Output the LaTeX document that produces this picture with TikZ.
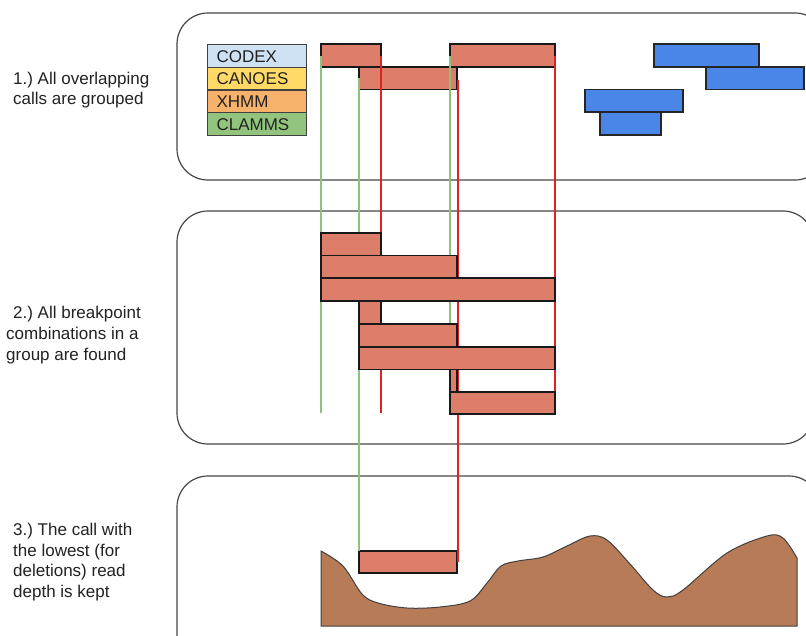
\documentclass[tikz,border=0pt]{standalone}
\usepackage{fontspec}
\setmainfont{Liberation Sans}
\frenchspacing
\definecolor{barred}{HTML}{DD7E6B}
\definecolor{barblue}{HTML}{4A86E8}
\definecolor{codexc}{HTML}{CFE2F3}
\definecolor{canoesc}{HTML}{FFD966}
\definecolor{xhmmc}{HTML}{F6B26B}
\definecolor{clammsc}{HTML}{93C47D}
\definecolor{lgreen}{HTML}{8CC279}
\definecolor{lred}{HTML}{E02222}
\definecolor{landc}{HTML}{B77B57}
\definecolor{txt}{HTML}{222222}
\begin{document}
\begin{tikzpicture}[x=1pt,y=-1pt,
  panel/.style={draw=black!72, line width=1.2pt, rounded corners=31pt},
  redbar/.style={draw=black!90, line width=1.1pt, fill=barred},
  bluebar/.style={draw=black!85, line width=1.1pt, fill=barblue},
  legbox/.style={draw=black!75, line width=1.1pt, anchor=north west, minimum width=99pt, minimum height=22.7pt, text width=81pt, inner xsep=9pt, inner ysep=0pt, text height=12.3pt, text depth=0pt, align=left, font=\fontsize{17}{20}\selectfont\frenchspacing, text=txt},
  gline/.style={draw=lgreen, line width=2pt},
  rline/.style={draw=lred, line width=1.8pt},
  land/.style={draw=black!75, line width=1pt, fill=landc},
  lab/.style={anchor=base west, inner sep=0pt, font=\fontsize{17}{20}\selectfont\frenchspacing, text=txt}
]
\useasboundingbox (0,0) rectangle (806,635);
\clip (0,0) rectangle (806,635);
\fill[white] (0,0) rectangle (806,635);

% panels
\draw[panel] (177,13) rectangle (826,180);
\draw[panel] (177,211) rectangle (814,444);
\draw[panel] (177,476) rectangle (820,665);

% labels
\node[lab] (l1a) at (13,84.3) {1.) All overlapping};
\node[lab] (l1b) at (13,104.5) {calls are grouped};
\node[lab] (l2a) at (13,318.5) {2.) All breakpoint};
\node[lab] (l2b) at (6,339.5) {combinations in a};
\node[lab] (l2c) at (6,360) {group are found};
\node[lab] (l3a) at (13,535) {3.) The call with};
\node[lab] (l3b) at (13,556) {the lowest (for};
\node[lab] (l3c) at (13,576.5) {deletions) read};
\node[lab] (l3d) at (13,597) {depth is kept};

% legend
\node[legbox, fill=codexc] (codex) at (207,44) {CODEX};
\node[legbox, fill=canoesc] (canoes) at (207,66.7) {CANOES};
\node[legbox, fill=xhmmc] (xhmm) at (207,89.4) {XHMM};
\node[legbox, fill=clammsc] (clamms) at (207,112.1) {CLAMMS};

% panel 1 calls
\draw[redbar] (321,44) rectangle (381,67);
\draw[redbar] (450,44) rectangle (555,67);
\draw[redbar] (359,67) rectangle (457,89.5);
\draw[bluebar] (654,44) rectangle (759,67);
\draw[bluebar] (706,67) rectangle (804,89.5);
\draw[bluebar] (585,89.5) rectangle (683,112);
\draw[bluebar] (600,112) rectangle (661,135);

% panel 3 kept call
\draw[redbar] (359,551) rectangle (457,573);

% breakpoint lines
\coordinate (g1a) at (321,56);  \coordinate (g1b) at (321,413);
\coordinate (g2a) at (359,78);  \coordinate (g2b) at (359,551);
\coordinate (g3a) at (450,56);  \coordinate (g3b) at (450,413);
\coordinate (r1a) at (381,56);  \coordinate (r1b) at (381,413);
\coordinate (r2a) at (458,80);  \coordinate (r2b) at (458,562);
\coordinate (r3a) at (555,56);  \coordinate (r3b) at (555,414);
\draw[gline] (g1a) -- (g1b);
\draw[gline] (g2a) -- (g2b);
\draw[gline] (g3a) -- (g3b);
\draw[rline] (r1a) -- (r1b);
\draw[rline] (r2a) -- (r2b);
\draw[rline] (r3a) -- (r3b);

% panel 2 combinations
\draw[redbar] (321,233) rectangle (381,255.5);
\draw[redbar] (321,255.5) rectangle (457,278);
\draw[redbar] (321,278) rectangle (555,301);
\draw[redbar] (359,301) rectangle (381,324);
\draw[redbar] (359,324) rectangle (457,347);
\draw[redbar] (359,347) rectangle (555,369.5);
\draw[redbar] (450,369.5) rectangle (457,392);
\draw[redbar] (450,392) rectangle (555,414);

% read depth landscape
\draw[land] plot[smooth, tension=0.55] coordinates {
  (321,551) (343,566) (362,594) (378,603) (407,608) (440,607) (470,601)
  (487,583) (501,566) (518,561) (543,557) (567,546) (590,536) (607,540)
  (630,564) (653,590) (667,597) (683,590) (727,553) (767,536) (783,538) (797,558)}
  -- (797,626) -- (321,626) -- cycle;
\end{tikzpicture}
\end{document}
